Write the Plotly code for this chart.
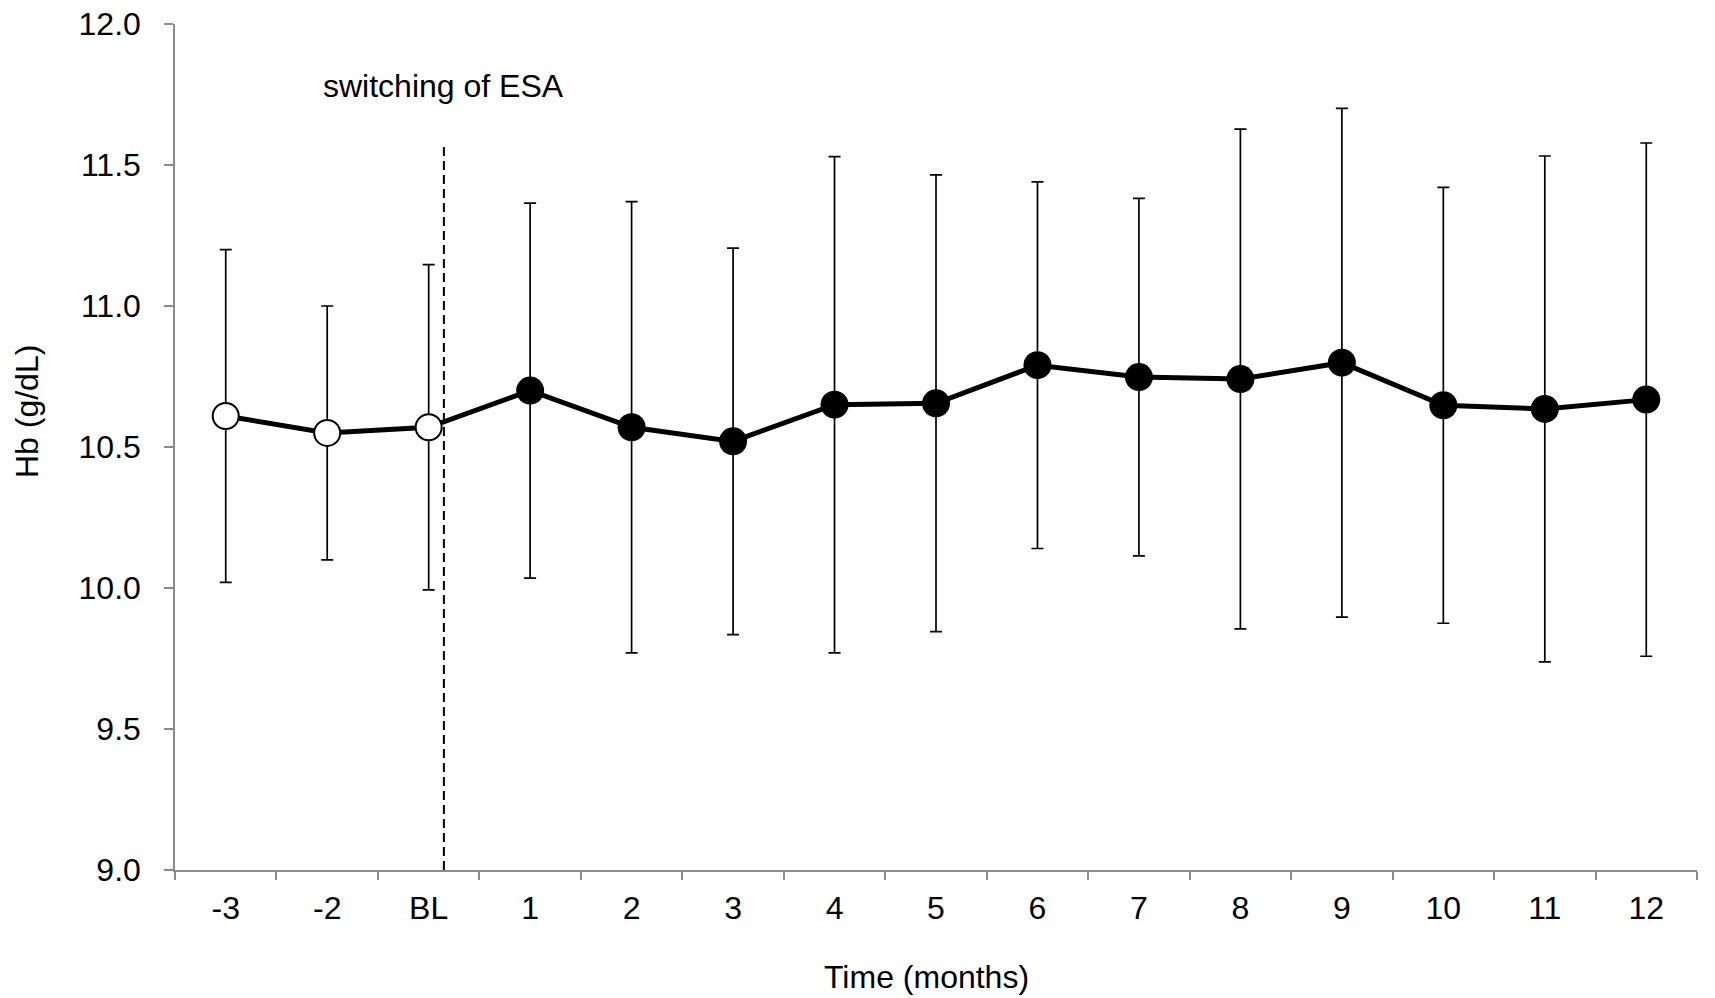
import plotly.graph_objects as go

# ---- data ----
categories = ["-3", "-2", "BL", "1", "2", "3", "4", "5", "6", "7", "8", "9", "10", "11", "12"]
hb_mean = [10.61, 10.55, 10.57, 10.70, 10.57, 10.52, 10.65, 10.655, 10.79, 10.748, 10.741, 10.799, 10.648, 10.635, 10.668]
hb_sd = [0.59, 0.45, 0.577, 0.665, 0.80, 0.685, 0.88, 0.81, 0.65, 0.634, 0.886, 0.902, 0.773, 0.897, 0.91]
pre_switch = ["-3", "-2", "BL"]
y_tick_vals = [9.0, 9.5, 10.0, 10.5, 11.0, 11.5, 12.0]
switch_label = "switching of ESA"
switch_pos = 2.15       # between BL and month 1 (category index units)
switch_top = 11.58

FONT = "Liberation Sans, Arial, sans-serif"
FS = 32
AXIS_GREY = "#8c8c8c"

pre_idx = [i for i, c in enumerate(categories) if c in pre_switch]
post_idx = [i for i, c in enumerate(categories) if c not in pre_switch]

fig = go.Figure()

# error bars (drawn first, under the line and markers)
fig.add_trace(go.Scatter(
    x=categories, y=hb_mean, mode="lines",
    line=dict(color="rgba(0,0,0,0)", width=0.1),
    error_y=dict(type="data", array=hb_sd, symmetric=True, color="black",
                 thickness=1.7, width=6),
    showlegend=False, hoverinfo="skip"))

# connecting line
fig.add_trace(go.Scatter(
    x=categories, y=hb_mean, mode="lines",
    line=dict(color="black", width=5), showlegend=False))

# pre-switch (open) markers
fig.add_trace(go.Scatter(
    x=[categories[i] for i in pre_idx], y=[hb_mean[i] for i in pre_idx],
    mode="markers",
    marker=dict(symbol="circle", size=26, color="white",
                line=dict(color="black", width=2)),
    showlegend=False))

# post-switch (filled) markers
fig.add_trace(go.Scatter(
    x=[categories[i] for i in post_idx], y=[hb_mean[i] for i in post_idx],
    mode="markers",
    marker=dict(symbol="circle", size=28, color="black",
                line=dict(color="black", width=0)),
    showlegend=False))

# dashed vertical line for the switch
fig.add_shape(type="line", xref="x", yref="y",
              x0=switch_pos, x1=switch_pos, y0=9.0, y1=switch_top,
              line=dict(color="black", width=2, dash="9px,5px"))

fig.add_annotation(x=switch_pos, y=11.78, xref="x", yref="y",
                   text=switch_label, showarrow=False,
                   xanchor="center", yanchor="middle",
                   font=dict(family=FONT, size=FS, color="black"))

# axis titles as annotations
fig.add_annotation(x=0.4939, y=-0.1265, xref="paper", yref="paper",
                   text="Time (months)", showarrow=False,
                   xanchor="center", yanchor="middle",
                   font=dict(family=FONT, size=FS, color="black"))
fig.add_annotation(x=-0.0972, y=0.5414, xref="paper", yref="paper",
                   text="Hb (g/dL)", showarrow=False, textangle=-90,
                   xanchor="center", yanchor="middle",
                   font=dict(family=FONT, size=FS, color="black"))

fig.update_xaxes(
    type="category", categoryorder="array", categoryarray=categories,
    range=[-0.5, len(categories) - 0.5], automargin=False,
    showline=True, linecolor=AXIS_GREY, linewidth=1.5,
    ticks="outside", ticklen=8, tickcolor=AXIS_GREY, tickwidth=1.5,
    tickson="boundaries", showgrid=False, zeroline=False,
    tickfont=dict(family=FONT, size=FS, color="black"),
    ticklabelstandoff=9,
)
fig.update_yaxes(
    range=[9.0, 12.0], tickvals=y_tick_vals, tickformat=".1f", automargin=False,
    showline=True, linecolor=AXIS_GREY, linewidth=1.5,
    ticks="outside", ticklen=9, tickcolor=AXIS_GREY, tickwidth=1.5,
    showgrid=False, zeroline=False,
    tickfont=dict(family=FONT, size=FS, color="black"),
    ticklabelstandoff=17,
)

fig.update_layout(
    width=1715, height=998,
    margin=dict(l=175, r=17.5, t=24, b=128, pad=0),
    plot_bgcolor="white", paper_bgcolor="white",
    showlegend=False,
)

fig.write_html("out.html")
